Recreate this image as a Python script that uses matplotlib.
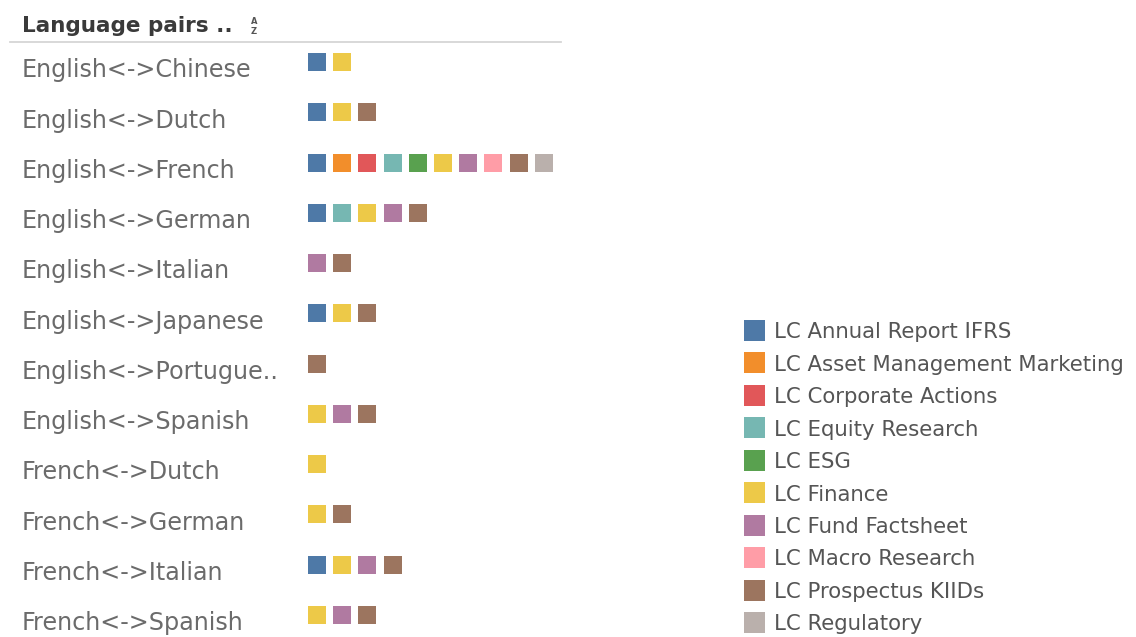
import matplotlib.pyplot as plt
from matplotlib.lines import Line2D
from matplotlib.transforms import blended_transform_factory

plt.rcParams['font.family'] = ['DejaVu Sans']

# rows of the view (as shown, long names are cut by Tableau)
pairs = ["English<->Chinese", "English<->Dutch", "English<->French",
         "English<->German", "English<->Italian", "English<->Japanese",
         "English<->Portugue..", "English<->Spanish", "French<->Dutch",
         "French<->German", "French<->Italian", "French<->Spanish"]

categories = ["LC Annual Report IFRS", "LC Asset Management Marketing",
              "LC Corporate Actions", "LC Equity Research", "LC ESG",
              "LC Finance", "LC Fund Factsheet", "LC Macro Research",
              "LC Prospectus KIIDs", "LC Regulatory"]

# tableau 10
colors = ["#4E79A7", "#F28E2B", "#E15759", "#76B7B2", "#59A14F",
          "#EDC948", "#B07AA1", "#FF9DA7", "#9C755F", "#BAB0AC"]

# which categories each language pair has (index into categories)
pair_cats = [
    [0, 5],
    [0, 5, 8],
    [0, 1, 2, 3, 4, 5, 6, 7, 8, 9],
    [0, 3, 5, 6, 8],
    [6, 8],
    [0, 5, 8],
    [8],
    [5, 6, 8],
    [5],
    [5, 8],
    [0, 5, 6, 8],
    [5, 6, 8],
]

W, H = 1136, 637
fig = plt.figure(figsize=(W / 100, H / 100), dpi=100)
fig.patch.set_facecolor('white')

# main grid of squares: column = position in the row, row = language pair
ax = fig.add_axes([300 / W, 0, 270 / W, (H - 42) / H])
step_x, step_y = 25.2, 50.27
ax.set_xlim((300 - 317) / step_x, (570 - 317) / step_x)
ax.set_ylim((637 - 62) / step_y, (42 - 62) / step_y)
ax.axis('off')

for i, cats in enumerate(pair_cats):
    ax.scatter(range(len(cats)), [i] * len(cats), marker='s', s=168,
               c=[colors[c] for c in cats], linewidths=0, clip_on=False)

tr = blended_transform_factory(fig.transFigure, ax.transData)
for i, p in enumerate(pairs):
    ax.text(22 / W, i + 15.3 / step_y, p, transform=tr, fontsize=17.2,
            color='#6b6b6b', va='baseline', ha='left')

# header
fig.text(22 / W, 1 - 32 / H, "Language pairs ..", fontsize=15.5,
         color='#3a3a3a', va='baseline', ha='left', fontweight='bold')
fig.text(254 / W, 1 - 22 / H, "A", fontsize=6, color='#555555',
         ha='center', va='center', fontweight='bold')
fig.text(254 / W, 1 - 31 / H, "Z", fontsize=6, color='#555555',
         ha='center', va='center', fontweight='bold')
fig.add_artist(Line2D([10 / W, 561 / W], [1 - 42.3 / H] * 2,
                      color='#d6d6d6', lw=1.3))

# colour legend
lax = fig.add_axes([740 / W, 0, 396 / W, 337 / H])
lstep = 32.45
lax.set_xlim(-14.7, 381.3)
lax.set_ylim((637 - 330.5) / lstep, (300 - 330.5) / lstep)
lax.axis('off')
lax.scatter([0] * len(categories), range(len(categories)), marker='s',
            s=228, c=colors, linewidths=0, clip_on=False)
for k, name in enumerate(categories):
    lax.text(19.5, k + 7.8 / lstep, name, fontsize=15.3, color='#555555',
             va='baseline', ha='left')

fig.savefig('out.png', dpi=100)
